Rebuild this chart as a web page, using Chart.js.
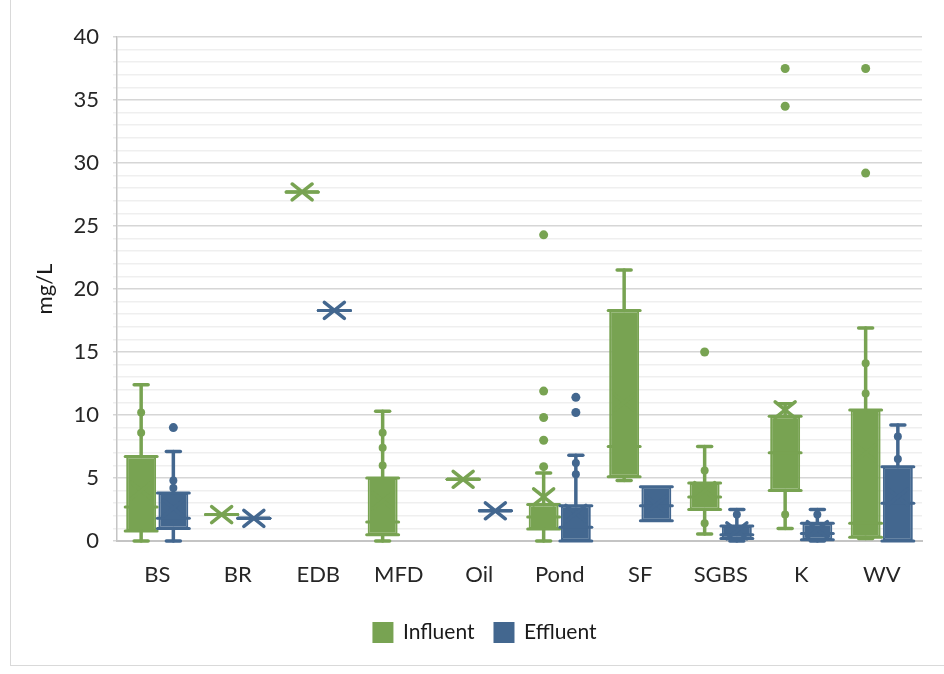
<!DOCTYPE html>
<html>
<head>
<meta charset="utf-8">
<script src="https://cdn.jsdelivr.net/npm/chart.js@4.4.1/dist/chart.umd.min.js"></script>
<style>
html, body { margin: 0; padding: 0; background: #fff; }
</style>
</head>
<body>
<canvas id="canvas" width="944" height="674"></canvas>
<script>
var categories = ['BS', 'BR', 'EDB', 'MFD', 'Oil', 'Pond', 'SF', 'SGBS', 'K', 'WV'];
var yTicks = [0, 5, 10, 15, 20, 25, 30, 35, 40];

// Influent box stats (mg/L)
var influentMin = [0, 2.1, 27.7, 0, 4.9, 0, 4.8, 0.55, 1.0, 0.2];
var influentQ1 = [0.8, 2.1, 27.7, 0.5, 4.9, 0.95, 5.1, 2.5, 4.0, 0.3];
var influentMedian = [2.7, 2.1, 27.7, 1.5, 4.9, 1.9, 7.5, 3.5, 7.0, 1.4];
var influentQ3 = [6.7, 2.1, 27.7, 5.0, 4.9, 2.9, 18.3, 4.6, 9.9, 10.4];
var influentMax = [12.4, 2.1, 27.7, 10.3, 4.9, 5.4, 21.5, 7.5, 10.9, 16.9];
var influentMean = [4.0, 2.1, 27.7, 3.2, 4.9, 3.5, 11.0, 4.0, 10.4, 7.0];
var influentPoints = [[8.6, 10.2], [], [], [6.0, 7.4, 8.6], [], [], [], [1.4, 5.6], [2.1], [11.7, 14.1]];
var influentOutliers = [[], [], [], [], [], [5.9, 8.0, 9.8, 11.9, 24.3], [], [15.0], [34.5, 37.5], [29.2, 37.5]];

// Effluent box stats (mg/L)
var effluentMin = [0, 1.8, 18.3, null, 2.4, 0, 1.6, 0, 0, 0];
var effluentQ1 = [1.0, 1.8, 18.3, null, 2.4, 0, 1.6, 0.2, 0.1, 0];
var effluentMedian = [1.8, 1.8, 18.3, null, 2.4, 1.1, 2.8, 0.5, 0.6, 3.0];
var effluentQ3 = [3.8, 1.8, 18.3, null, 2.4, 2.8, 4.3, 1.2, 1.4, 5.9];
var effluentMax = [7.1, 1.8, 18.3, null, 2.4, 6.8, 4.3, 2.5, 2.5, 9.2];
var effluentMean = [2.6, 1.8, 18.3, null, 2.4, 2.2, 2.9, 0.8, 0.9, 3.5];
var effluentPoints = [[4.2, 4.8], [], [], [], [], [5.3, 6.2], [], [2.1], [2.1], [6.5, 8.3]];
var effluentOutliers = [[9.0], [], [], [], [], [10.2, 11.4], [], [], [], []];

var green = '#78a352';
var blue = '#43678f';

var stats = [
	{ min: influentMin, q1: influentQ1, median: influentMedian, q3: influentQ3, max: influentMax, mean: influentMean, points: influentPoints, outliers: influentOutliers },
	{ min: effluentMin, q1: effluentQ1, median: effluentMedian, q3: effluentQ3, max: effluentMax, mean: effluentMean, points: effluentPoints, outliers: effluentOutliers }
];

function boxes(q1, q3) {
	return q1.map(function(v, i) {
		if (v === null || q3[i] <= v) return null;
		return [v, q3[i]];
	});
}

Chart.defaults.font.family = "Lato, 'Liberation Sans', sans-serif";
Chart.defaults.color = '#262626';

var boxPlot = {
	id: 'boxPlot',
	beforeDraw: function(chart) {
		var ctx = chart.ctx;
		ctx.save();
		ctx.fillStyle = '#fff';
		ctx.fillRect(0, 0, chart.width, chart.height);
		ctx.strokeStyle = '#d9d9d9';
		ctx.lineWidth = 1;
		ctx.strokeRect(10.5, -5, 960, 670.5);
		ctx.restore();
	},
	afterDatasetsDraw: function(chart) {
		var ctx = chart.ctx;
		var ys = chart.scales.y;
		function line(x1, y1, x2, y2) {
			ctx.beginPath();
			ctx.moveTo(x1, y1);
			ctx.lineTo(x2, y2);
			ctx.stroke();
		}
		function dot(x, y, r) {
			ctx.beginPath();
			ctx.arc(x, y, r, 0, Math.PI * 2);
			ctx.fill();
		}
		chart.data.datasets.forEach(function(ds, di) {
			var s = stats[di];
			var meta = chart.getDatasetMeta(di);
			meta.data.forEach(function(bar, i) {
				if (s.median[i] === null) return;
				var x = bar.x, w = bar.width;
				var yMin = ys.getPixelForValue(s.min[i]);
				var yQ1 = ys.getPixelForValue(s.q1[i]);
				var yQ3 = ys.getPixelForValue(s.q3[i]);
				var yMax = ys.getPixelForValue(s.max[i]);
				ctx.save();
				ctx.strokeStyle = ds.borderColor;
				ctx.fillStyle = ds.borderColor;
				ctx.lineCap = 'round';
				ctx.lineWidth = 3.5;
				// whiskers
				if (s.min[i] < s.q1[i]) {
					line(x, yQ1, x, yMin);
					line(x - 7, yMin, x + 7, yMin);
				}
				if (s.max[i] > s.q3[i]) {
					line(x, yQ3, x, yMax);
					line(x - 7, yMax, x + 7, yMax);
				}
				// quartile and median lines
				ctx.lineWidth = 3;
				[s.q1[i], s.median[i], s.q3[i]].forEach(function(v) {
					var yy = ys.getPixelForValue(v);
					line(x - w / 2 - 1, yy, x + w / 2 + 1, yy);
				});
				// mean marker
				ctx.lineWidth = 3.5;
				var yMean = ys.getPixelForValue(s.mean[i]);
				line(x - 10, yMean - 8, x + 10, yMean + 8);
				line(x - 10, yMean + 8, x + 10, yMean - 8);
				// inner points and outliers
				s.points[i].forEach(function(v) { dot(x, ys.getPixelForValue(v), 4); });
				s.outliers[i].forEach(function(v) { dot(x, ys.getPixelForValue(v), 4.5); });
				ctx.restore();
			});
		});
	}
};

var ctx = document.getElementById('canvas').getContext('2d');

var chart = new Chart(ctx, {
	type: 'bar',
	data: {
		labels: categories,
		datasets: [{
			label: 'Influent',
			data: boxes(influentQ1, influentQ3),
			backgroundColor: green,
			borderColor: green,
			borderWidth: 2,
			borderSkipped: false
		}, {
			label: 'Effluent',
			data: boxes(effluentQ1, effluentQ3),
			backgroundColor: blue,
			borderColor: blue,
			borderWidth: 2,
			borderSkipped: false
		}]
	},
	options: {
		responsive: false,
		animation: false,
		devicePixelRatio: 1,
		categoryPercentage: 0.8,
		barPercentage: 0.93,
		layout: { padding: { left: 48, right: 22, top: 37, bottom: 21 } },
		plugins: {
			legend: {
				position: 'bottom',
				labels: {
					boxWidth: 19,
					boxHeight: 19,
					padding: 20,
					color: '#1a1a1a',
					font: { size: 21 }
				}
			},
			tooltip: { enabled: false }
		},
		scales: {
			x: {
				grid: { display: false, drawTicks: false },
				border: { display: true, color: '#c4c4c4', width: 2 },
				ticks: { padding: 21, font: { size: 22 }, color: '#262626' },
				afterFit: function(scale) { scale.height = 61; }
			},
			y: {
				min: 0,
				max: 40,
				border: { display: true, color: '#c4c4c4', width: 1.5 },
				grid: {
					tickLength: 4,
					lineWidth: 1.5,
					color: function(c) {
						return yTicks.indexOf(c.tick.value) >= 0 ? '#d6d6d6' : '#efefef';
					}
				},
				ticks: {
					stepSize: 1,
					autoSkip: false,
					padding: 14,
					font: { size: 22 },
					color: '#262626',
					callback: function(v) { return yTicks.indexOf(v) >= 0 ? String(v) : ''; }
				},
				title: {
					display: true,
					text: 'mg/L',
					color: '#1a1a1a',
					font: { size: 22 },
					padding: { top: -16, bottom: 0 }
				},
				afterFit: function(scale) { scale.width = 69; }
			}
		}
	},
	plugins: [boxPlot]
});
</script>
</body>
</html>
